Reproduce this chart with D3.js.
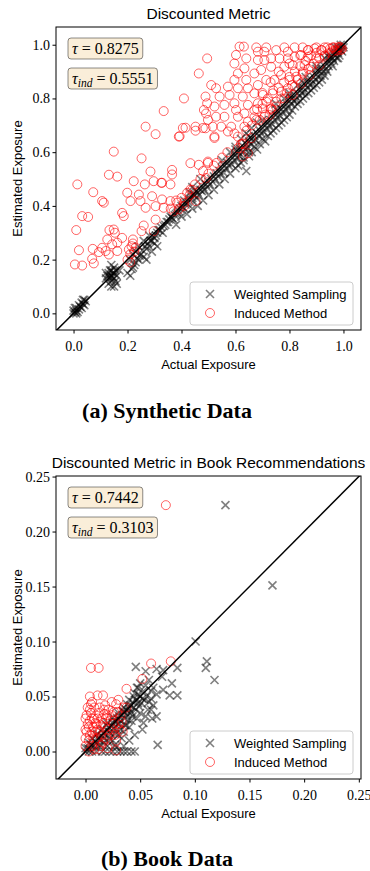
<!DOCTYPE html>
<html>
<head>
<meta charset="utf-8">
<script src="https://cdn.jsdelivr.net/npm/d3@7"></script>
<style>
  body { margin: 0; background: #fff; }
  svg { display: block; }
  .tick text { font-family: "Liberation Serif", serif; font-size: 14px; fill: #000; }
  .sans { font-family: "Liberation Sans", Arial, sans-serif; fill: #000; }
  .serif { font-family: "Liberation Serif", serif; fill: #000; }
</style>
</head>
<body>
<svg id="chart" width="370" height="871"></svg>
<script>
// ---- data ----
const seriesNames = ["Weighted Sampling", "Induced Method"];

const synthTicks = [0, 0.2, 0.4, 0.6, 0.8, 1.0];
const bookTicks = [0, 0.05, 0.10, 0.15, 0.20, 0.25];

const synthTau = ["0.8275", "0.5551"];
const bookTau = ["0.7442", "0.3103"];

// synthetic data: [actual, estimated]
const synthWeighted = [
  [0.0,0.0],[0.01,0.01],[0.005,0.02],[0.015,0.005],[0.02,0.03],[0.03,0.04],[0.035,0.05],[0.04,0.03],[0.03,0.02],[0.01,0.0],[0.045,0.045],[0.02,0.015],
  [0.0,0.01],[0.01,0.02],[0.025,0.025],[0.035,0.035],[0.04,0.05],[0.005,0.005],
  [0.12,0.13],[0.13,0.15],[0.14,0.16],[0.15,0.17],[0.13,0.11],[0.14,0.12],[0.15,0.10],[0.16,0.14],[0.12,0.15],[0.14,0.18],[0.15,0.13],[0.16,0.11],[0.13,0.14],[0.17,0.16],[0.14,0.10],
  [0.125,0.14],[0.135,0.16],[0.145,0.15],[0.155,0.16],[0.135,0.13],[0.145,0.135],[0.155,0.12],[0.14,0.14],[0.15,0.15],
  [0.20,0.15],[0.21,0.14],[0.22,0.17],[0.23,0.19],[0.24,0.20],[0.25,0.22],[0.26,0.21],[0.27,0.24],[0.28,0.25],[0.29,0.27],[0.30,0.28],[0.22,0.22],[0.24,0.25],[0.26,0.27],[0.28,0.29],[0.30,0.26],[0.31,0.30],[0.32,0.31],[0.33,0.30],[0.34,0.33],[0.21,0.20],[0.23,0.23],[0.27,0.20],[0.29,0.23],[0.31,0.25],
  [0.215,0.165],[0.225,0.18],[0.235,0.205],[0.245,0.215],[0.255,0.235],[0.265,0.25],[0.275,0.26],[0.285,0.27],[0.295,0.285],[0.305,0.29],[0.315,0.31],[0.325,0.32],[0.335,0.325],[0.345,0.34],[0.355,0.35],[0.365,0.355],[0.375,0.365],[0.385,0.375],[0.395,0.39],[0.405,0.395],[0.415,0.405],[0.425,0.415],[0.435,0.425],[0.445,0.44],
  [0.35,0.34],[0.36,0.36],[0.37,0.35],[0.38,0.37],[0.39,0.38],[0.40,0.40],[0.41,0.39],[0.42,0.41],[0.43,0.42],[0.44,0.43],[0.45,0.44],[0.46,0.45],[0.47,0.46],[0.48,0.47],[0.49,0.48],[0.50,0.49],[0.38,0.33],[0.40,0.36],[0.42,0.37],[0.44,0.39],[0.46,0.40],[0.48,0.42],[0.50,0.44],[0.41,0.42],[0.43,0.45],[0.45,0.46],[0.47,0.50],[0.44,0.47],
  [0.51,0.50],[0.52,0.51],[0.53,0.52],[0.54,0.53],[0.55,0.54],[0.56,0.55],[0.57,0.56],[0.58,0.57],[0.59,0.58],[0.60,0.59],[0.61,0.60],[0.62,0.61],[0.63,0.62],[0.64,0.63],[0.65,0.64],[0.66,0.65],[0.67,0.66],[0.68,0.67],[0.69,0.68],[0.70,0.69],[0.52,0.46],[0.54,0.48],[0.56,0.50],[0.58,0.52],[0.60,0.54],[0.62,0.56],[0.64,0.53],[0.63,0.58],[0.65,0.60],[0.67,0.62],[0.69,0.63],[0.70,0.65],[0.55,0.57],[0.58,0.60],[0.60,0.62],[0.62,0.65],[0.64,0.67],[0.66,0.69],[0.68,0.71],
  [0.455,0.43],[0.465,0.44],[0.475,0.455],[0.485,0.46],[0.495,0.47],[0.505,0.48],[0.515,0.49],[0.525,0.5],[0.535,0.51],[0.545,0.52],[0.555,0.525],[0.565,0.54],[0.575,0.55],[0.585,0.555],[0.595,0.57],[0.605,0.58],[0.615,0.585],[0.625,0.6],[0.635,0.61],[0.645,0.615],[0.655,0.63],[0.665,0.64],[0.675,0.645],[0.685,0.66],[0.695,0.67],[0.705,0.675],[0.715,0.69],[0.725,0.70],[0.735,0.705],[0.745,0.72],[0.755,0.73],[0.765,0.735],[0.775,0.75],[0.785,0.76],[0.795,0.765],[0.805,0.78],[0.815,0.79],[0.825,0.795],[0.835,0.81],[0.845,0.82],[0.855,0.825],[0.865,0.84],[0.875,0.85],[0.885,0.855],[0.895,0.87],[0.905,0.88],[0.915,0.885],[0.925,0.9],[0.935,0.91],[0.945,0.92],[0.955,0.93],[0.965,0.94],[0.975,0.95],[0.985,0.96],[0.995,0.975],
  [0.71,0.70],[0.72,0.71],[0.73,0.72],[0.74,0.73],[0.75,0.74],[0.76,0.75],[0.77,0.76],[0.78,0.77],[0.79,0.78],[0.80,0.79],[0.81,0.80],[0.82,0.81],[0.83,0.82],[0.84,0.83],[0.85,0.84],[0.86,0.85],[0.87,0.86],[0.88,0.87],[0.89,0.88],[0.90,0.89],[0.91,0.90],[0.92,0.91],[0.93,0.92],[0.94,0.93],[0.95,0.94],[0.96,0.95],[0.97,0.96],[0.98,0.97],[0.99,0.98],[1.0,0.99],
  [0.72,0.66],[0.74,0.68],[0.76,0.70],[0.78,0.72],[0.80,0.74],[0.82,0.77],[0.84,0.79],[0.86,0.81],[0.88,0.83],[0.90,0.85],[0.92,0.87],[0.94,0.90],[0.96,0.92],[0.98,0.95],[0.75,0.78],[0.78,0.80],[0.80,0.82],[0.83,0.85],[0.86,0.88],[0.90,0.92],[0.93,0.95],[0.96,0.97],[0.97,0.99],[0.99,1.0],[0.95,0.96],[0.98,0.98],[0.97,0.97],[0.94,0.96],
  [0.6,0.61],[0.65,0.66],[0.7,0.72],[0.75,0.76],[0.8,0.81],[0.85,0.86],[0.9,0.91],[0.95,0.95],[0.98,0.99],[1.0,1.0],[0.99,0.99],[0.985,0.985],
  [0.61,0.55],[0.63,0.57],[0.65,0.585],[0.66,0.6],[0.68,0.61],[0.71,0.64],[0.73,0.67],[0.75,0.69],[0.77,0.71],[0.79,0.73],[0.81,0.755],[0.83,0.78],[0.85,0.8],[0.87,0.82],[0.89,0.84],[0.91,0.86],[0.93,0.885]
];

const synthInduced = [
  [0.495,0.949],[0.464,0.893],[0.409,0.800],[0.489,0.807],[0.495,0.782],[0.483,0.757],[0.334,0.753],[0.267,0.695],[0.304,0.667],[0.415,0.691],[0.452,0.695],[0.489,0.689],[0.390,0.658],[0.452,0.680],[0.149,0.602],[0.252,0.577],[0.365,0.534],[0.433,0.559],[0.464,0.553],[0.285,0.528],[0.131,0.516],[0.162,0.509],
  [0.014,0.480],[0.073,0.451],[0.106,0.418],[0.112,0.412],[0.223,0.492],[0.264,0.480],[0.297,0.492],[0.328,0.486],[0.365,0.517],[0.359,0.480],[0.199,0.449],[0.242,0.442],[0.248,0.418],[0.211,0.418],[0.267,0.393],[0.291,0.436],[0.328,0.424],[0.304,0.399],[0.334,0.393],[0.359,0.418],[0.384,0.412],[0.371,0.380],[0.390,0.387],[0.409,0.412],[0.421,0.449],[0.433,0.461],[0.452,0.418],
  [0.032,0.362],[0.054,0.359],[0.010,0.310],[0.180,0.374],[0.186,0.362],[0.260,0.327],[0.252,0.306],[0.304,0.349],[0.297,0.306],[0.133,0.310],[0.149,0.312],[0.153,0.300],[0.125,0.275],[0.180,0.281],[0.220,0.275],[0.162,0.263],[0.143,0.257],[0.020,0.235],[0.071,0.240],[0.106,0.244],[0.119,0.232],[0.094,0.228],[0.131,0.219],[0.162,0.232],[0.069,0.203],[0.075,0.186],[0.005,0.182],[0.032,0.178],
  [0.205,0.238],[0.200,0.200],[0.210,0.190],[0.215,0.250],[0.225,0.230],[0.220,0.260],[0.210,0.220],[0.230,0.245],
  [0.615,0.993],[0.631,0.993],[0.677,0.990],[0.683,0.974],[0.714,0.990],[0.707,0.974],[0.751,0.980],[0.781,0.990],[0.794,0.974],[0.819,0.990],[0.849,0.990],[0.868,0.980],[0.893,0.986],[0.917,0.980],[0.950,0.985],[0.965,0.990],[0.975,0.978],[0.985,0.992],[0.995,0.985],[0.958,0.975],
  [0.602,0.962],[0.640,0.949],[0.596,0.930],[0.633,0.912],[0.683,0.943],[0.707,0.943],[0.732,0.949],[0.763,0.949],[0.794,0.949],[0.819,0.955],[0.843,0.962],[0.868,0.955],[0.899,0.949],[0.930,0.955],
  [0.609,0.893],[0.640,0.869],[0.670,0.893],[0.695,0.906],[0.732,0.918],[0.781,0.918],[0.812,0.924],[0.856,0.924],[0.880,0.918],[0.911,0.924],
  [0.510,0.850],[0.528,0.838],[0.572,0.844],[0.596,0.869],[0.609,0.838],[0.646,0.838],[0.683,0.850],[0.714,0.869],[0.744,0.869],[0.769,0.887],[0.800,0.869],[0.825,0.881],[0.849,0.893],[0.874,0.887],
  [0.541,0.807],[0.578,0.813],[0.627,0.807],[0.670,0.819],[0.701,0.813],[0.738,0.819],[0.769,0.825],[0.794,0.838],[0.819,0.844],[0.843,0.856],
  [0.522,0.770],[0.559,0.776],[0.596,0.782],[0.602,0.757],[0.646,0.776],[0.683,0.782],[0.714,0.788],[0.732,0.763],[0.751,0.788],[0.781,0.800],[0.812,0.813],
  [0.491,0.744],[0.498,0.720],[0.528,0.732],[0.559,0.732],[0.609,0.732],[0.633,0.744],[0.670,0.757],[0.701,0.763],[0.738,0.757],
  [0.516,0.695],[0.522,0.658],[0.547,0.695],[0.584,0.695],[0.596,0.670],[0.572,0.677],[0.609,0.658],[0.633,0.695],[0.646,0.714],[0.677,0.720],[0.707,0.732],[0.726,0.738],
  [0.609,0.615],[0.627,0.633],[0.658,0.652],[0.498,0.565],[0.627,0.584],[0.646,0.596],[0.479,0.690],[0.522,0.653],[0.498,0.560],[0.491,0.504],[0.393,0.659],[0.405,0.690],[0.325,0.486],
  [0.66,0.70],[0.68,0.76],[0.70,0.78],[0.72,0.80],[0.74,0.83],[0.76,0.84],[0.78,0.86],[0.80,0.88],[0.82,0.90],[0.84,0.92],[0.86,0.94],[0.88,0.96],[0.90,0.97],[0.92,0.98],[0.94,0.99],[0.96,0.99],[0.98,0.99],[0.99,0.98],[0.97,0.98],[0.95,0.97],[0.93,0.96],[0.91,0.95],[0.89,0.93],[0.87,0.91],[0.85,0.90],[0.83,0.87],[0.81,0.85],[0.79,0.82],[0.77,0.80],[0.75,0.77],[0.73,0.76],[0.71,0.74],[0.69,0.72],[0.67,0.73],[0.64,0.68],
  [0.70,0.82],[0.73,0.86],[0.76,0.90],[0.80,0.93],[0.84,0.96],[0.87,0.98],[0.90,0.99],[0.93,0.99],[0.99,0.99],[0.62,0.63],[0.63,0.63],[0.55,0.58],[0.57,0.60],[0.50,0.52],[0.52,0.55],[0.45,0.48],[0.47,0.50],[0.43,0.44],[0.40,0.43],[0.38,0.42],[0.36,0.39],[0.41,0.40],[0.44,0.46],[0.48,0.53],[0.53,0.56]
];

// book data: [actual, estimated]
const bookWeighted = [
  [0.0,0.0],[0.002,0.003],[0.004,0.002],[0.005,0.006],[0.007,0.005],[0.008,0.01],[0.01,0.008],[0.012,0.012],[0.013,0.01],[0.015,0.014],[0.016,0.017],[0.018,0.015],[0.02,0.019],[0.021,0.022],[0.022,0.018],[0.024,0.023],[0.025,0.026],[0.026,0.021],[0.028,0.027],[0.029,0.03],[0.03,0.025],[0.031,0.032],[0.032,0.028],[0.034,0.033],[0.035,0.036],[0.036,0.03],[0.037,0.038],[0.038,0.034],[0.04,0.039],[0.041,0.042],[0.042,0.036],[0.043,0.045],[0.044,0.04],[0.046,0.047],[0.048,0.044],[0.05,0.05],[0.052,0.048],[0.045,0.053],[0.047,0.058],[0.05,0.062],[0.055,0.06],
  [0.01,0.015],[0.015,0.02],[0.02,0.026],[0.025,0.031],[0.03,0.035],[0.035,0.04],[0.04,0.047],[0.012,0.005],[0.017,0.008],[0.022,0.012],[0.027,0.016],[0.032,0.02],[0.037,0.024],[0.042,0.028],[0.047,0.03],[0.02,0.005],[0.025,0.01],[0.03,0.015],[0.035,0.018],[0.04,0.022],
  [0.003,0.008],[0.006,0.012],[0.009,0.004],[0.011,0.016],[0.014,0.006],[0.017,0.012],[0.019,0.024],[0.021,0.009],[0.023,0.016],[0.026,0.028],[0.027,0.006],[0.029,0.02],[0.031,0.026],[0.033,0.012],[0.034,0.037],[0.036,0.024],[0.038,0.043],[0.039,0.029],[0.041,0.035],[0.043,0.032],[0.044,0.05],[0.046,0.038],[0.048,0.052],[0.049,0.041],[0.051,0.044],[0.053,0.055],[0.054,0.047],[0.056,0.05],[0.058,0.065],[0.06,0.048],[0.062,0.058],[0.057,0.038],[0.061,0.03],[0.052,0.02],[0.045,0.015],[0.04,0.01],[0.035,0.005],[0.028,0.004],
  [0.01,0.0],[0.018,0.0],[0.025,0.0],[0.032,0.0],[0.038,0.0],[0.045,0.0],[0.006,0.0],[0.015,0.0],[0.022,0.0],[0.029,0.0],[0.035,0.0],[0.042,0.0],[0.003,0.0],[0.0,0.003],[0.066,0.006],
  [0.046,0.077],[0.055,0.073],[0.065,0.075],[0.071,0.074],[0.084,0.076],[0.079,0.062],[0.07,0.068],[0.071,0.056],[0.065,0.052],[0.077,0.051],[0.084,0.051],[0.06,0.038],[0.065,0.032],[0.055,0.032],[0.053,0.026],[0.058,0.045],[0.062,0.042],[0.05,0.035],[0.06,0.055],[0.048,0.058],
  [0.1007,0.1],[0.111,0.082],[0.11,0.076],[0.118,0.065],[0.128,0.224],[0.171,0.151]
];

const bookInduced = [
  [0.0735,0.224],[0.005,0.076],[0.012,0.076],[0.06,0.08],[0.078,0.082],[0.052,0.066],[0.0375,0.057],[0.011,0.051],[0.016,0.051],[0.005,0.043],[0.028,0.043],[0.017,0.038],[0.0375,0.04],[0.02,0.003],[0.028,0.001],[0.003,0.0],
  [0.0,0.02],[0.002,0.025],[0.0,0.03],[0.004,0.015],[0.005,0.035],[0.007,0.022],[0.008,0.03],[0.01,0.012],[0.01,0.025],[0.012,0.035],[0.013,0.018],[0.015,0.03],[0.016,0.008],[0.018,0.022],[0.02,0.033],[0.022,0.015],[0.023,0.028],[0.025,0.02],[0.026,0.036],[0.028,0.01],[0.03,0.025],[0.032,0.032],[0.034,0.018],[0.003,0.01],[0.006,0.005],[0.0,0.012],[0.008,0.04],[0.018,0.042],[0.024,0.045],[0.012,0.002],[0.004,0.028],[0.009,0.018],[0.014,0.024],[0.019,0.012],[0.035,0.04],[0.03,0.047],
  [0.001,0.018],[0.003,0.022],[0.001,0.033],[0.004,0.038],[0.006,0.03],[0.006,0.018],[0.007,0.012],[0.009,0.026],[0.011,0.03],[0.011,0.02],[0.013,0.04],[0.014,0.014],[0.016,0.026],[0.017,0.034],[0.019,0.03],[0.021,0.038],[0.021,0.02],[0.024,0.033],[0.026,0.025],[0.027,0.015],[0.029,0.036],[0.031,0.02],[0.033,0.027],[0.006,0.045],[0.002,0.04],[0.0,0.005],[0.008,0.002],[0.014,0.005],[0.004,0.05]
];

const svg = d3.select("#chart");

// one scatter panel
function drawPanel(o) {
  const g = svg.append("g");
  const x = d3.scaleLinear().domain(o.xDomain).range([o.left, o.right]);
  const y = d3.scaleLinear().domain(o.yDomain).range([o.bottom, o.top]);

  const clipId = "clip" + o.id;
  g.append("clipPath").attr("id", clipId)
    .append("rect")
    .attr("x", o.left).attr("y", o.top)
    .attr("width", o.right - o.left).attr("height", o.bottom - o.top);

  const plot = g.append("g").attr("clip-path", `url(#${clipId})`);

  // weighted sampling: grey x marks
  plot.selectAll("path.ws")
    .data(o.weighted)
    .enter().append("path")
    .attr("class", "ws")
    .attr("d", "M-4,-4L4,4M-4,4L4,-4")
    .attr("transform", d => `translate(${x(d[0])},${y(d[1])})`)
    .attr("stroke", "#000")
    .attr("stroke-opacity", 0.5)
    .attr("stroke-width", 1.6)
    .attr("fill", "none");

  // induced method: red open circles
  plot.selectAll("circle.im")
    .data(o.induced)
    .enter().append("circle")
    .attr("class", "im")
    .attr("cx", d => x(d[0]))
    .attr("cy", d => y(d[1]))
    .attr("r", 4.5)
    .attr("fill", "none")
    .attr("stroke", "red")
    .attr("stroke-opacity", 0.6)
    .attr("stroke-width", 1);

  // y = x reference line
  const lo = Math.min(o.xDomain[0], o.yDomain[0]) - 0.1;
  const hi = Math.max(o.xDomain[1], o.yDomain[1]) + 0.1;
  plot.append("line")
    .attr("x1", x(lo)).attr("y1", y(lo))
    .attr("x2", x(hi)).attr("y2", y(hi))
    .attr("stroke", "#000").attr("stroke-width", 1.5);

  // axes
  const xAxis = g.append("g")
    .attr("transform", `translate(0,${o.bottom})`)
    .call(d3.axisBottom(x).tickValues(o.ticks).tickFormat(d3.format(o.fmt)).tickSize(3.5).tickSizeOuter(0));
  xAxis.select(".domain").remove();
  xAxis.selectAll(".tick text").attr("dy", "1.05em");

  const yAxis = g.append("g")
    .attr("transform", `translate(${o.left},0)`)
    .call(d3.axisLeft(y).tickValues(o.ticks).tickFormat(d3.format(o.fmt)).tickSize(3.5).tickSizeOuter(0));
  yAxis.select(".domain").remove();
  yAxis.selectAll(".tick text").attr("x", -6);

  g.append("rect")
    .attr("x", o.left).attr("y", o.top)
    .attr("width", o.right - o.left).attr("height", o.bottom - o.top)
    .attr("fill", "none").attr("stroke", "#000").attr("stroke-width", 1);

  // title and axis labels
  g.append("text").attr("class", "sans")
    .attr("x", (o.left + o.right) / 2).attr("y", o.top - 8)
    .attr("text-anchor", "middle").attr("font-size", 15.5)
    .text(o.title);

  g.append("text").attr("class", "sans")
    .attr("x", (o.left + o.right) / 2).attr("y", o.bottom + 39)
    .attr("text-anchor", "middle").attr("font-size", 13)
    .text("Actual Exposure");

  g.append("text").attr("class", "sans")
    .attr("transform", `translate(22,${(o.top + o.bottom) / 2}) rotate(-90)`)
    .attr("text-anchor", "middle").attr("font-size", 13)
    .text("Estimated Exposure");

  // tau boxes
  o.tau.forEach((val, i) => {
    const by = o.top + 11 + i * 30;
    const bg = g.append("g");
    const rect = bg.append("rect");
    const t = bg.append("text").attr("class", "serif")
      .attr("x", o.left + 16).attr("y", by + 15.5).attr("font-size", 16);
    t.append("tspan").attr("font-style", "italic").text("τ");
    if (i === 1) {
      t.append("tspan").attr("font-style", "italic").attr("font-size", 11.5).attr("dy", 3).text("ind");
      t.append("tspan").attr("dy", -3).text(" = " + val);
    } else {
      t.append("tspan").text(" = " + val);
    }
    const bb = t.node().getBBox();
    rect.attr("x", o.left + 12).attr("y", by)
      .attr("width", bb.width + 8).attr("height", 21)
      .attr("rx", 3)
      .attr("fill", "#f5deb3").attr("fill-opacity", 0.5)
      .attr("stroke", "#000").attr("stroke-opacity", 0.45).attr("stroke-width", 1);
  });

  // legend
  const lg = g.append("g").attr("transform", `translate(190,${o.bottom - 48})`);
  lg.append("rect")
    .attr("width", 163).attr("height", 43).attr("rx", 3)
    .attr("fill", "#fff").attr("fill-opacity", 0.8)
    .attr("stroke", "#ccc").attr("stroke-width", 1);
  lg.append("path")
    .attr("d", "M-4,-4L4,4M-4,4L4,-4")
    .attr("transform", "translate(20,12)")
    .attr("stroke", "#000").attr("stroke-opacity", 0.5).attr("stroke-width", 1.6);
  lg.append("circle")
    .attr("cx", 20).attr("cy", 31).attr("r", 4.5)
    .attr("fill", "none").attr("stroke", "red").attr("stroke-opacity", 0.6);
  seriesNames.forEach((s, i) => {
    lg.append("text").attr("class", "sans")
      .attr("x", 44).attr("y", 16.5 + i * 19.5).attr("font-size", 13)
      .text(s);
  });

  // caption
  svg.append("text").attr("class", "serif")
    .attr("x", 167).attr("y", o.capY)
    .attr("text-anchor", "middle").attr("font-size", 22).attr("font-weight", "bold")
    .text(o.caption);
}

drawPanel({
  id: "a", left: 56, right: 361, top: 27, bottom: 330,
  xDomain: [-0.065, 1.065], yDomain: [-0.062, 1.066],
  ticks: synthTicks, fmt: ".1f",
  weighted: synthWeighted, induced: synthInduced,
  title: "Discounted Metric", tau: synthTau,
  caption: "(a) Synthetic Data", capY: 418
});

drawPanel({
  id: "b", left: 56, right: 361, top: 476, bottom: 779,
  xDomain: [-0.027, 0.252], yDomain: [-0.025, 0.2505],
  ticks: bookTicks, fmt: ".2f",
  weighted: bookWeighted, induced: bookInduced,
  title: "Discounted Metric in Book Recommendations", tau: bookTau,
  caption: "(b) Book Data", capY: 866
});
</script>
</body>
</html>
